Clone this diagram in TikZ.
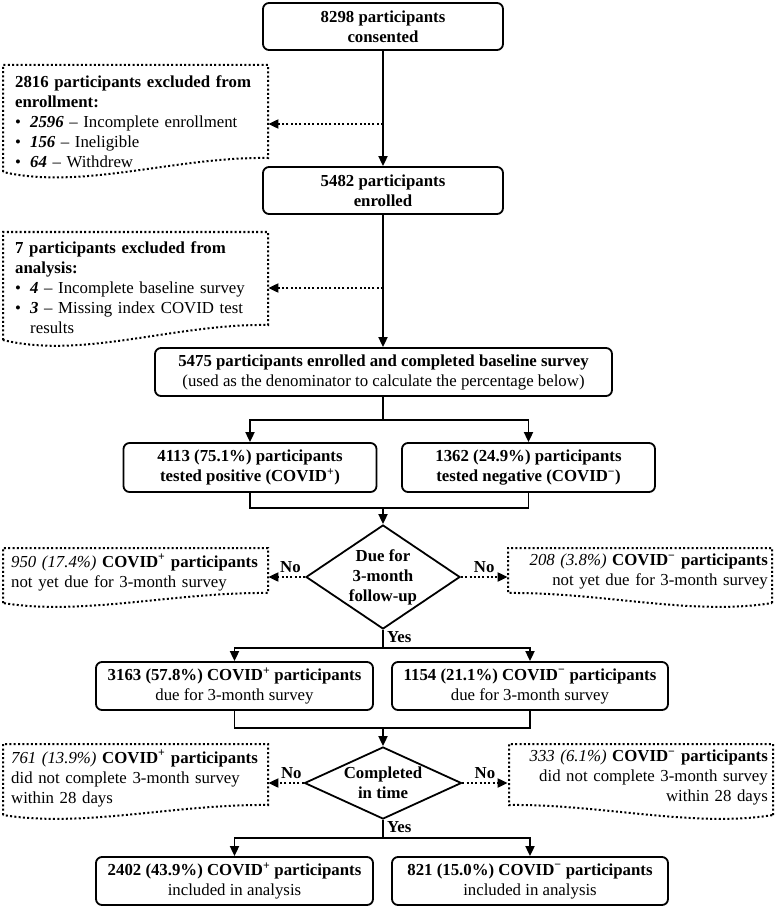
\documentclass[tikz,border=0pt]{standalone}
\usepackage{fontspec}
\setmainfont{Liberation Serif}
\usetikzlibrary{arrows.meta,shapes.geometric}

\newcommand{\fsz}{\fontsize{16.8}{20}\selectfont}
\newcommand{\cpos}{\textsuperscript{+}}
\newcommand{\cneg}{\textsuperscript{\char"2212}}
\newcommand{\bitem}{\makebox[15pt][l]{\textbullet}}
% document shape, wave rising to the right: x1, x2, top, bottom right, bottom left
\newcommand{\docleft}[5]{%
  \draw[dotbox] (#1,#5) -- (#1,#3) -- (#2,#3) -- (#2,#4)
    .. controls ({#1+0.65*(#2-#1)},{#4-0.1*(#5-#4)}) and ({#1+0.3*(#2-#1)},{#5+1.3*(#5-#4)}) .. (#1,#5);}
% same, mirrored: x1, x2, top, bottom left, bottom right
\newcommand{\docright}[5]{%
  \draw[dotbox] (#2,#5) -- (#2,#3) -- (#1,#3) -- (#1,#4)
    .. controls ({#2-0.65*(#2-#1)},{#4-0.1*(#5-#4)}) and ({#2-0.3*(#2-#1)},{#5+1.3*(#5-#4)}) .. (#2,#5);}

\tikzset{
  flowbox/.style={draw, rounded corners=6pt, line width=1.8pt, align=center, inner sep=0pt, font=\fsz},
  boldbox/.style={flowbox, font=\fsz\bfseries},
  decision/.style={draw, diamond, line width=1.8pt, inner sep=0pt},
  diamtext/.style={align=center, font=\fsz\bfseries, inner sep=0pt},
  exclnote/.style={anchor=north west, align=left, inner xsep=12pt, inner ysep=0pt, text width=241pt, font=\fsz},
  countnote/.style={exclnote, inner xsep=8pt, text width=249pt},
  countnoteR/.style={anchor=north east, align=right, inner xsep=4pt, inner ysep=0pt, text width=256pt, font=\fsz},
  dotbox/.style={line width=2pt, dash pattern=on 2pt off 2.3pt},
  conn/.style={line width=1.8pt},
  link/.style={conn, -{Triangle[length=10pt,width=9pt]}},
  dotlink/.style={dotbox, -{Triangle[length=10pt,width=9pt]}},
  ans/.style={font=\fsz\bfseries, inner sep=1pt},
}

\begin{document}
\begin{tikzpicture}[x=1pt, y=-1pt]
\useasboundingbox (0,0) rectangle (777,909);

% main column
\node[boldbox, minimum width=240pt, minimum height=47pt] (consent) at (383,26.5) {8298 participants\\consented};
\node[boldbox, minimum width=240pt, minimum height=47pt] (enrol) at (383,190.5) {5482 participants\\enrolled};
\node[flowbox, minimum width=457pt, minimum height=48pt] (base) at (383.5,372)
  {\textbf{5475 participants enrolled and completed baseline survey}\\(used as the denominator to calculate the percentage below)};
\node[boldbox, minimum width=253pt, minimum height=49pt] (pos) at (250,467.5) {4113 (75.1\%) participants\\tested positive (COVID\cpos)};
\node[boldbox, minimum width=253pt, minimum height=49pt] (neg) at (528.5,467.5) {1362 (24.9\%) participants\\tested negative (COVID\cneg)};
\node[decision, minimum width=154pt, minimum height=104pt,
  label={[diamtext, name=duetxt]center:{Due for\\3-month\\follow-up}}] (due) at (383,577) {};
\node[flowbox, minimum width=277pt, minimum height=48pt] (posdue) at (234.5,686)
  {\textbf{3163 (57.8\%) COVID\cpos{} participants}\\due for 3-month survey};
\node[flowbox, minimum width=276pt, minimum height=48pt] (negdue) at (530,686)
  {\textbf{1154 (21.1\%) COVID\cneg{} participants}\\due for 3-month survey};
\node[decision, minimum width=157pt, minimum height=72pt,
  label={[diamtext, name=donetxt]center:{Completed\\in time}}] (done) at (383,783) {};
\node[flowbox, minimum width=277pt, minimum height=48pt] (posinc) at (234.5,881)
  {\textbf{2402 (43.9\%) COVID\cpos{} participants}\\included in analysis};
\node[flowbox, minimum width=276pt, minimum height=48pt] (neginc) at (530,881)
  {\textbf{821 (15.0\%) COVID\cneg{} participants}\\included in analysis};

% exclusions
\node[exclnote] (exA) at (3,75) {\textbf{2816 participants excluded from}\\
  \textbf{enrollment:}\\
  \bitem\textbf{\textit{2596}} -- Incomplete enrollment\\
  \bitem\textbf{\textit{156}} -- Ineligible\\
  \bitem\textbf{\textit{64}} -- Withdrew};
\docleft{3}{268}{65}{158}{172}
\node[exclnote] (exB) at (3,241) {\textbf{7 participants excluded from}\\
  \textbf{analysis:}\\
  \bitem\textbf{\textit{4}} -- Incomplete baseline survey\\
  \bitem\textbf{\textit{3}} -- Missing index COVID test\\
  \hspace*{15pt}results};
\docleft{3}{268}{232}{325}{340}
\node[countnote] (exC) at (3,554) {\textit{950 (17.4\%)} \textbf{COVID\cpos{} participants}\\
  not yet due for 3-month survey};
\docleft{3}{268}{548}{593}{603}
\node[countnoteR] (exD) at (772,554) {\textit{208 (3.8\%)} \textbf{COVID\cneg{} participants}\\
  not yet due for 3-month survey};
\docright{508}{772}{548}{593}{603}
\node[countnote] (exE) at (3,750) {\textit{761 (13.9\%)} \textbf{COVID\cpos{} participants}\\
  did not complete 3-month survey\\within 28 days};
\docleft{3}{268}{744}{805}{815}
\node[countnoteR] (exF) at (772,750) {\textit{333 (6.1\%)} \textbf{COVID\cneg{} participants}\\
  did not complete 3-month survey\\within 28 days};
\docright{509}{773}{744}{805}{815}

% connectors
\coordinate (tapA) at (383,124);
\coordinate (tapB) at (383,288);
\draw[link] (consent) -- (enrol);
\draw[dotlink] (tapA) -- (tapA -| exA.east);
\draw[link] (enrol) -- (enrol |- base.north);
\draw[dotlink] (tapB) -- (tapB -| exB.east);

\draw[link] (enrol |- base.south) -- ++(0,23) coordinate (split1) -| (pos);
\draw[link] (split1) -| (neg);
\coordinate (merge1) at (383,508);
\draw[conn] (pos.south) |- (merge1) -| (neg.south);
\draw[link] (merge1) -- (due);

\draw[dotlink] (due.west) -- (due.west -| exC.east) node[ans, pos=0.4, above=2pt] (no1) {No};
\draw[dotlink] (due.east) -- (due.east -| exD.west) node[ans, midway, above=2pt] (no2) {No};
\node[ans, anchor=north west, xshift=3pt] (yes1) at (due.south) {Yes};

\draw[link] (due.south) -- ++(0,18) coordinate (split2) -| (posdue);
\draw[link] (split2) -| (negdue);
\coordinate (merge2) at (383,728);
\draw[conn] (posdue.south) |- (merge2) -| (negdue.south);
\draw[link] (merge2) -- (done);

\draw[dotlink] (done.west) -- (done.west -| exE.east) node[ans, pos=0.35, above=2pt] (no3) {No};
\draw[dotlink] (done.east) -- (done.east -| exF.west) node[ans, midway, above=2pt] (no4) {No};
\node[ans, anchor=north west, xshift=3pt] (yes2) at (done.south) {Yes};

\draw[link] (done.south) -- ++(0,18) coordinate (split3) -| (posinc);
\draw[link] (split3) -| (neginc);
\end{tikzpicture}
\end{document}
